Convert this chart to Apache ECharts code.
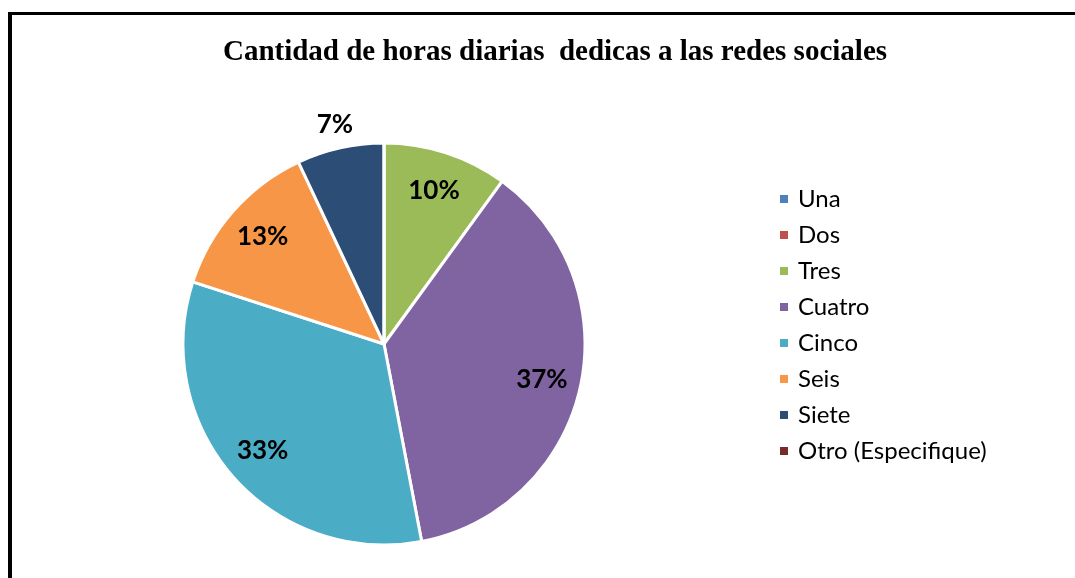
<!DOCTYPE html>
<html>
<head>
<meta charset="utf-8">
<script src="https://cdn.jsdelivr.net/npm/echarts@6/dist/echarts.min.js"></script>
<style>
  html, body { margin: 0; padding: 0; background: #fff; }
  #chart { position: absolute; left: 0; top: 0; width: 1075px; height: 578px; }
  #frame { position: absolute; left: 8px; top: 12px; width: 1075px; height: 578px;
           border-left: 4px solid #000; border-top: 3px solid #000; pointer-events: none; }
</style>
</head>
<body>
<div id="chart"></div>
<div id="frame"></div>
<script>
// datos del gráfico
const categorias = ['Una', 'Dos', 'Tres', 'Cuatro', 'Cinco', 'Seis', 'Siete', 'Otro (Especifique)'];
const valores = [0, 0, 10, 37, 33, 13, 7, 0];
const colores = ['#4F81BD', '#C0504D', '#9BBB59', '#8064A2', '#4BACC6', '#F79646', '#2C4D75', '#772C2A'];
// etiquetas que van fuera del pastel
const fuera = ['Siete'];

const centro = [384, 344];
const radio = 201;

const chart = echarts.init(document.getElementById('chart'));

const datos = categorias.map((n, i) => ({ name: n, value: valores[i], itemStyle: { color: colores[i] } }));

const estiloEtiqueta = {
    fontFamily: 'Lato',
    fontWeight: 'bold',
    fontSize: 26,
    color: '#000',
    formatter: '{c}%'
};

// pasteles transparentes que sólo sirven para ubicar las etiquetas
const capaEtiquetas = (r, mostrar) => ({
    type: 'pie',
    silent: true,
    center: centro,
    radius: [0, r],
    startAngle: 90,
    clockwise: true,
    legendHoverLink: false,
    itemStyle: { color: 'transparent', borderWidth: 0 },
    emphasis: { disabled: true },
    labelLine: { show: false },
    data: categorias.map((n, i) => ({
        name: n,
        value: valores[i],
        itemStyle: { color: 'transparent' },
        label: { show: valores[i] > 0 && mostrar(n), position: 'inside', ...estiloEtiqueta }
    }))
});

chart.setOption({
    animation: false,
    color: colores,
    title: {
        text: 'Cantidad de horas diarias  dedicas a las redes sociales',
        left: 550,
        textAlign: 'center',
        top: 33,
        textStyle: { fontFamily: 'Liberation Serif', fontWeight: 'bold', fontSize: 29, color: '#000' }
    },
    legend: {
        orient: 'vertical',
        left: 773,
        top: 181,
        icon: 'rect',
        itemWidth: 10,
        itemHeight: 10,
        itemGap: 10,
        data: categorias,
        textStyle: { fontFamily: 'Lato', fontSize: 24, color: '#000', lineHeight: 26, padding: [0, 0, 0, 4] }
    },
    series: [
        {
            type: 'pie',
            center: centro,
            radius: [0, radio],
            startAngle: 90,
            clockwise: true,
            label: { show: false },
            labelLine: { show: false },
            itemStyle: { borderColor: '#fff', borderWidth: 3 },
            emphasis: { disabled: true },
            data: datos
        },
        capaEtiquetas(radio * 2 * 0.79, n => fuera.indexOf(n) < 0),
        capaEtiquetas(radio * 2 * 1.105, n => fuera.indexOf(n) >= 0)
    ]
});
</script>
</body>
</html>
